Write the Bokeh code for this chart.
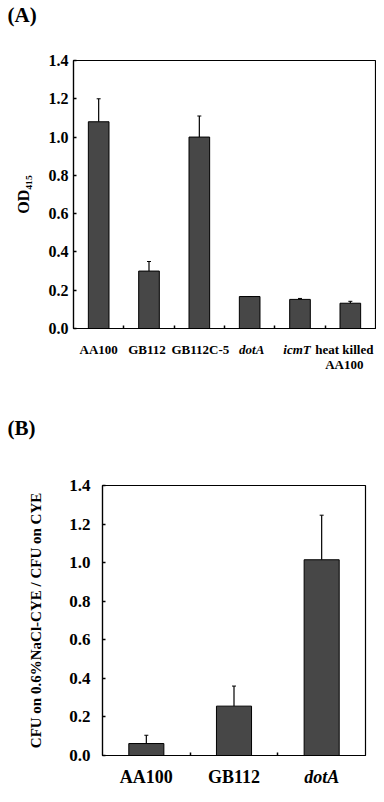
from bokeh.plotting import figure
from bokeh.models import (ColumnDataSource, Range1d, FixedTicker,
                          Whisker, TeeHead, PrintfTickFormatter)
from bokeh.core.properties import value
from bokeh.embed import file_html
from bokeh.resources import INLINE

# ---------------- data ----------------
a_labels = ["AA100", "GB112", "GB112C-5", "dotA", "icmT", "heat killed\nAA100"]
a_styles = ["bold", "bold", "bold", "bold italic", "bold italic", "bold"]
a_values = [1.08, 0.30, 1.00, 0.167, 0.152, 0.132]
a_errors = [0.12, 0.05, 0.11, 0.0, 0.005, 0.01]
a_yticks = [0.0, 0.2, 0.4, 0.6, 0.8, 1.0, 1.2, 1.4]

b_labels = ["AA100", "GB112", "dotA"]
b_styles = ["bold", "bold", "bold italic"]
b_values = [0.062, 0.256, 1.015]
b_errors = [0.043, 0.104, 0.231]
b_yticks = [0.0, 0.2, 0.4, 0.6, 0.8, 1.0, 1.2, 1.4]

SERIF = "Liberation Serif"
BAR = "#474747"
PAGE_W = 376


def bare(height, x_range, y_range):
    s = figure(width=PAGE_W, height=height, x_range=x_range, y_range=y_range,
               output_backend="svg", toolbar_location=None,
               min_border_left=0, min_border_right=0, min_border_top=0,
               min_border_bottom=0)
    s.axis.visible = False
    s.grid.visible = False
    s.outline_line_color = None
    s.background_fill_color = "white"
    s.border_fill_color = "white"
    return s


def make_panel(labels, values, errors, yticks, frame_w, frame_h, left, top, bottom,
               bar_width, ylabel, ylabel_size, tick_size, tick_standoff, label_standoff):
    n = len(labels)
    idx = list(range(n))
    src = ColumnDataSource(dict(
        x=idx, value=values, upper=[v + e for v, e in zip(values, errors)]))
    p = figure(frame_width=frame_w, frame_height=frame_h,
               x_range=Range1d(-0.5, n - 0.5), y_range=Range1d(0, 1.4),
               output_backend="svg", toolbar_location=None,
               min_border_left=left, min_border_right=PAGE_W - left - frame_w,
               min_border_top=top, min_border_bottom=bottom)
    p.xgrid.visible = False
    p.ygrid.visible = False
    p.outline_line_color = "black"
    p.outline_line_width = 1.2
    p.background_fill_color = "white"
    p.border_fill_color = "white"

    p.vbar(x="x", top="value", width=bar_width, bottom=0, source=src,
           fill_color=BAR, line_color="black", line_width=1)
    p.add_layout(Whisker(source=src, base="x", lower="value", upper="upper",
                         line_color="black", line_width=1.2,
                         upper_head=TeeHead(size=4, line_color="black", line_width=1),
                         lower_head=None))

    xa = p.xaxis[0]
    xa.ticker = FixedTicker(ticks=[], minor_ticks=[i + 0.5 for i in range(n - 1)])
    xa.axis_line_color = "black"
    xa.axis_line_width = 1.2
    xa.minor_tick_in = 3
    xa.minor_tick_out = 0
    xa.minor_tick_line_color = "black"
    xa.minor_tick_line_width = 1.5
    xa.major_tick_line_color = None
    xa.major_label_text_font_size = "0px"
    xa.major_label_standoff = 0

    ya = p.yaxis[0]
    ya.ticker = FixedTicker(ticks=yticks, minor_ticks=[])
    ya.formatter = PrintfTickFormatter(format="%.1f")
    ya.axis_line_color = "black"
    ya.axis_line_width = 1.2
    ya.major_tick_in = 3
    ya.major_tick_out = 0
    ya.major_tick_line_color = "black"
    ya.major_tick_line_width = 1.5
    ya.minor_tick_line_color = None
    ya.major_label_text_font = SERIF
    ya.major_label_text_font_style = "bold"
    ya.major_label_text_font_size = tick_size
    ya.major_label_text_color = "black"
    ya.major_label_standoff = tick_standoff
    ya.axis_label = ylabel
    ya.axis_label_text_font = SERIF
    ya.axis_label_text_font_style = "bold"
    ya.axis_label_text_font_size = ylabel_size
    ya.axis_label_text_color = "black"
    ya.axis_label_standoff = label_standoff
    return p


def strip_under(panel, left, frame_w, height):
    """A text strip under a panel: same x scale as the panel, y measured in px from top."""
    xr = panel.x_range
    scale = frame_w / (xr.end - xr.start)
    x0 = xr.start - left / scale
    x1 = xr.end + (PAGE_W - left - frame_w) / scale
    s = bare(height, Range1d(x0, x1), Range1d(-height, 0))
    return s, x0, scale


A_LEFT, A_FW, A_FH, A_TOP, A_BOT = 73, 302, 268, 30, 10
B_LEFT, B_FW, B_FH, B_TOP, B_BOT = 102, 263, 270, 45, 10
PANEL_FONT = "21px"

# header with panel letter (A)
head = bare(30, Range1d(0, PAGE_W), Range1d(-30, 0))
head.text(x=[7], y=[-2], text=["(A)"], text_font=value(SERIF), text_font_style="bold",
          text_font_size=PANEL_FONT, text_baseline="top", text_align="left",
          text_color="black")

pa = make_panel(a_labels, a_values, a_errors, a_yticks, A_FW, A_FH, A_LEFT, A_TOP, A_BOT,
                bar_width=0.41, ylabel="OD₄₁₅", ylabel_size="16px", tick_size="16px",
                tick_standoff=5, label_standoff=14)

# category labels of (A) + panel letter (B)
sa, sa_x0, sa_scale = strip_under(pa, A_LEFT, A_FW, 102)
a_shift = [0, -2, 1, 2, -3, -6]        # small nudges so neighbouring labels do not touch
sa.text(x="x", y="y", text="text", text_font_style="style",
        source=ColumnDataSource(dict(x=list(range(len(a_labels))),
                                     y=[-3] * len(a_labels), text=a_labels,
                                     style=a_styles, dx=a_shift)),
        x_offset="dx", text_font=value(SERIF), text_font_size="13px",
        text_align="center", text_baseline="top", text_line_height=1.05,
        text_color="black")
sa.text(x=[sa_x0 + 7 / sa_scale], y=[-77], text=["(B)"], text_font=value(SERIF),
        text_font_style="bold", text_font_size=PANEL_FONT, text_baseline="top",
        text_align="left", text_color="black")

pb = make_panel(b_labels, b_values, b_errors, b_yticks, B_FW, B_FH, B_LEFT, B_TOP, B_BOT,
                bar_width=0.40, ylabel="CFU on 0.6%NaCl-CYE / CFU on CYE",
                ylabel_size="15px", tick_size="17px", tick_standoff=12,
                label_standoff=22)

sb, _, _ = strip_under(pb, B_LEFT, B_FW, 20)
sb.text(x="x", y="y", text="text", text_font_style="style",
        source=ColumnDataSource(dict(x=list(range(len(b_labels))),
                                     y=[-1] * len(b_labels), text=b_labels,
                                     style=b_styles)),
        text_font=value(SERIF), text_font_size="18px", text_align="center",
        text_baseline="top", text_color="black")

# separate roots, stacked in page order (keeps each plot's own frame geometry)
open("out.html", "w").write(file_html([head, pa, sa, pb, sb], INLINE))
